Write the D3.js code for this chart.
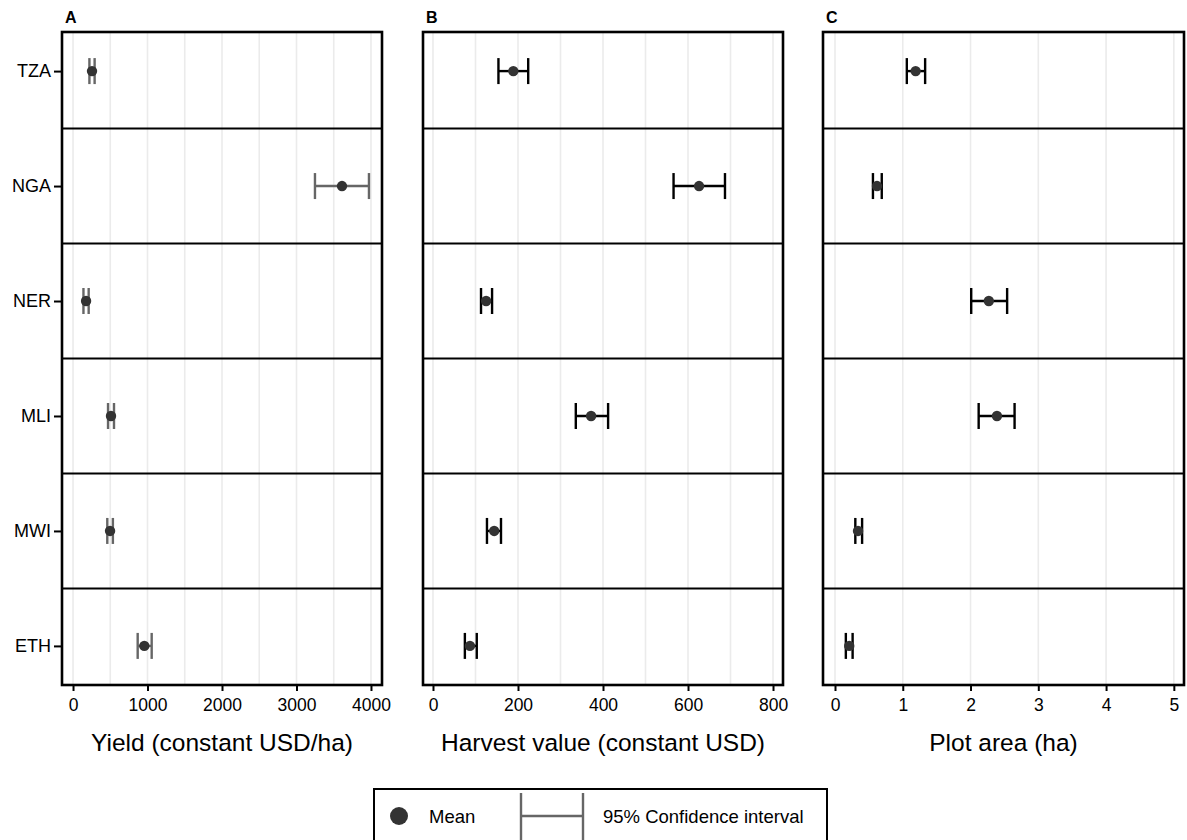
<!DOCTYPE html>
<html lang="en">
<head>
<meta charset="utf-8">
<title>Country comparison</title>
<style type="text/css">
body { margin: 0; background: #fff; }
svg { font-family: Arial, "Liberation Sans", sans-serif; }
.grid line { stroke: #ebebeb; stroke-width: 1.6px; }
.axis path { display: none; }
.axis line { stroke: #000; stroke-width: 2px; }
.axis text { fill: #000; font-size: 17.5px; }
.yaxis text { font-size: 18px; }
.title { font-size: 24.5px; }
.tag { font-size: 16px; font-weight: bold; }
.legtext { font-size: 18.5px; }
</style>
<script src="https://d3js.org/d3.v7.min.js"></script>
</head>
<body>
<div id="chart"></div>
<script>

var countries = ['TZA', 'NGA', 'NER', 'MLI', 'MWI', 'ETH'];

// yield (constant USD/ha)
var yieldMean = [255, 3611, 175, 510, 497, 957];
var yieldLow  = [220, 3248, 140, 470, 460, 868];
var yieldHigh = [290, 3973, 210, 550, 535, 1056];

// harvest value (constant USD)
var harvestMean = [189, 626, 125, 372, 144, 87];
var harvestLow  = [154, 566, 113, 336, 127, 75];
var harvestHigh = [224, 687, 139, 412, 160, 103];

// plot area (ha)
var areaMean = [1.19, 0.62, 2.27, 2.39, 0.34, 0.21];
var areaLow  = [1.06, 0.56, 2.01, 2.12, 0.30, 0.16];
var areaHigh = [1.33, 0.69, 2.54, 2.65, 0.40, 0.26];

var yieldTicks = [0, 1000, 2000, 3000, 4000];
var harvestTicks = [0, 200, 400, 600, 800];
var areaTicks = [0, 1, 2, 3, 4, 5];

var width = 1187, height = 840;
var plotTop = 32, plotBottom = 685;

var svg = d3.select('#chart').append('svg')
    .attr('width', width)
    .attr('height', height);

// y is shared by all panels; small expansion like the original
var yScale = d3.scalePoint()
    .domain(countries)
    .range([plotTop, plotBottom])
    .padding(0.34);

var step = yScale.step();

var panels = [
    { tag: 'A', left: 62, right: 382, domain: [-148, 4148], ticks: yieldTicks, grid: d3.range(0, 4001, 500),
      mean: yieldMean, low: yieldLow, high: yieldHigh, barColor: '#666', title: 'Yield (constant USD/ha)', yAxis: true },
    { tag: 'B', left: 423, right: 783, domain: [-23.5, 823.5], ticks: harvestTicks, grid: d3.range(0, 801, 100),
      mean: harvestMean, low: harvestLow, high: harvestHigh, barColor: '#000', title: 'Harvest value (constant USD)', yAxis: false },
    { tag: 'C', left: 823, right: 1184, domain: [-0.177, 5.15], ticks: areaTicks, grid: areaTicks,
      mean: areaMean, low: areaLow, high: areaHigh, barColor: '#000', title: 'Plot area (ha)', yAxis: false }
];

panels.forEach(function(p) {
    var x = d3.scaleLinear().domain(p.domain).range([p.left, p.right]);
    var g = svg.append('g');

    // vertical grid lines
    g.append('g').attr('class', 'grid')
        .selectAll('line')
        .data(p.grid)
        .enter().append('line')
        .attr('x1', function(d) { return x(d); })
        .attr('x2', function(d) { return x(d); })
        .attr('y1', plotTop)
        .attr('y2', plotBottom);

    // horizontal separators between countries
    g.selectAll('.sep')
        .data(countries.slice(1))
        .enter().append('line')
        .attr('x1', p.left)
        .attr('x2', p.right)
        .attr('y1', function(d) { return yScale(d) - step / 2; })
        .attr('y2', function(d) { return yScale(d) - step / 2; })
        .attr('stroke', '#000')
        .attr('stroke-width', 2);

    var rows = countries.map(function(c, i) {
        return { c: c, mean: p.mean[i], low: p.low[i], high: p.high[i] };
    });

    // error bars
    var eb = g.selectAll('.eb').data(rows).enter().append('g')
        .attr('stroke', p.barColor)
        .attr('stroke-width', 2.4)
        .attr('fill', 'none');
    eb.append('line')
        .attr('x1', function(d) { return x(d.low); })
        .attr('x2', function(d) { return x(d.high); })
        .attr('y1', function(d) { return yScale(d.c); })
        .attr('y2', function(d) { return yScale(d.c); });
    eb.append('line')
        .attr('x1', function(d) { return x(d.low); })
        .attr('x2', function(d) { return x(d.low); })
        .attr('y1', function(d) { return yScale(d.c) - 13; })
        .attr('y2', function(d) { return yScale(d.c) + 13; });
    eb.append('line')
        .attr('x1', function(d) { return x(d.high); })
        .attr('x2', function(d) { return x(d.high); })
        .attr('y1', function(d) { return yScale(d.c) - 13; })
        .attr('y2', function(d) { return yScale(d.c) + 13; });

    // means
    g.selectAll('.dot').data(rows).enter().append('circle')
        .attr('cx', function(d) { return x(d.mean); })
        .attr('cy', function(d) { return yScale(d.c); })
        .attr('r', 5.2)
        .attr('fill', '#333');

    // panel border
    g.append('rect')
        .attr('x', p.left)
        .attr('y', plotTop)
        .attr('width', p.right - p.left)
        .attr('height', plotBottom - plotTop)
        .attr('fill', 'none')
        .attr('stroke', '#000')
        .attr('stroke-width', 2.6);

    // x axis
    g.append('g')
        .attr('class', 'axis')
        .attr('transform', 'translate(0,' + (plotBottom + 1) + ')')
        .call(d3.axisBottom(x).tickValues(p.ticks).tickSize(5).tickPadding(8).tickFormat(d3.format('d')));

    // y axis only on the first panel
    if (p.yAxis) {
        g.append('g')
            .attr('class', 'axis yaxis')
            .attr('transform', 'translate(' + (p.left - 1) + ',0)')
            .call(d3.axisLeft(yScale).tickSize(7).tickPadding(3));
    }

    g.append('text')
        .attr('class', 'title')
        .attr('x', (p.left + p.right) / 2)
        .attr('y', 751)
        .attr('text-anchor', 'middle')
        .text(p.title);

    g.append('text')
        .attr('class', 'tag')
        .attr('x', p.left + 3)
        .attr('y', 23)
        .text(p.tag);
});

// legend
var lg = svg.append('g');
lg.append('rect')
    .attr('x', 374).attr('y', 789)
    .attr('width', 453).attr('height', 60)
    .attr('fill', '#fff')
    .attr('stroke', '#000')
    .attr('stroke-width', 2);
lg.append('circle')
    .attr('cx', 399).attr('cy', 816).attr('r', 9)
    .attr('fill', '#333');
lg.append('text')
    .attr('class', 'legtext')
    .attr('x', 429).attr('y', 823)
    .text('Mean');
var li = lg.append('g').attr('stroke', '#666').attr('stroke-width', 2.4);
li.append('line').attr('x1', 521).attr('x2', 583).attr('y1', 816).attr('y2', 816);
li.append('line').attr('x1', 521).attr('x2', 521).attr('y1', 793).attr('y2', 840);
li.append('line').attr('x1', 583).attr('x2', 583).attr('y1', 793).attr('y2', 840);
lg.append('text')
    .attr('class', 'legtext')
    .attr('x', 603).attr('y', 823)
    .text('95% Confidence interval');

</script>
</body>
</html>
